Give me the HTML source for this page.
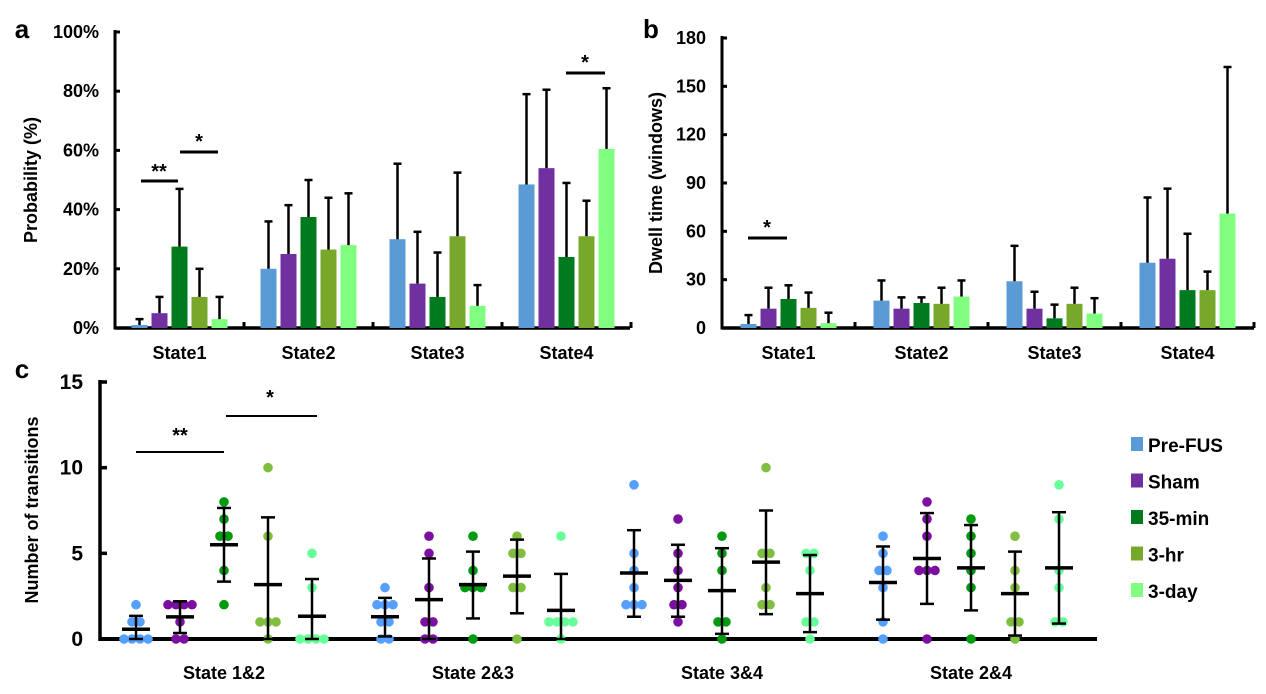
<!DOCTYPE html>
<html><head><meta charset="utf-8"><style>
body{margin:0;background:#fff;width:1266px;height:694px;overflow:hidden}
svg{display:block;font-family:"Liberation Sans",Arial,sans-serif;font-weight:bold}
</style></head><body>
<svg id="fig" width="1266" height="694" viewBox="0 0 1266 694"></svg>
<script>
const groups=["Pre-FUS","Sham","35-min","3-hr","3-day"];
const barColors=["#5b9bd5","#7030a0","#007a1f","#77a82c","#80ff80"];
const dotColors=["#55a0ff","#7b0fa0","#009a10","#7fbf3f","#66ff99"];
const stateCats=["State1","State2","State3","State4"];
// panel a: probability (%)
const probMean=[[1,5,27.5,10.5,3],[20,25,37.5,26.5,28],[30,15,10.5,31,7.5],[48.5,54,24,31,60.5]];
const probTop=[[3,10.5,47,20,10.5],[36,41.5,50,44,45.5],[55.5,32.5,25.5,52.5,14.5],[79,80.5,49,43,81]];
const probTicks=["0%","20%","40%","60%","80%","100%"];
// panel b: dwell time
const dwellMean=[[2.5,12,18,12.5,3],[17,12,15.5,15,19.5],[29,12,6,15,9],[40.5,43,23.5,23.5,71]];
const dwellTop=[[8,25,26.5,22,9.5],[29.5,19,19,25,29.5],[51,22.5,14.5,25,18.5],[81,86.5,58.5,35,162]];
const dwellTicks=[0,30,60,90,120,150,180];
// panel c: transitions
const transCats=["State 1&2","State 2&3","State 3&4","State 2&4"];
const transPts=[
 [[2,1,1,0,0,0,0],[2,2,2,2,1,0,0],[8,7,6,6,4,2],[10,6,1,1,1,0],[5,3,0,0,0,0]],
 [[3,2,2,2,1,1,0,0],[6,5,3,1,1,0,0],[6,4,3,3,3,0],[6,5,5,3,3,0],[6,1,1,1,1,0]],
 [[9,5,4,3,2,2,2],[7,5,4,3,2,2,1],[6,5,4,1,1,0],[10,5,5,3,2,2],[5,5,4,1,1,0]],
 [[6,5,4,4,3,1,0],[8,7,6,4,4,4,0],[7,6,5,4,3,0],[6,4,3,1,1,0],[9,7,4,3,1,1]]];
const transMean=[[0.57,1.29,5.5,3.17,1.33],[1.3,2.3,3.17,3.67,1.67],[3.85,3.42,2.82,4.49,2.65],[3.3,4.7,4.15,2.65,4.15]];
const transHi=[[1.35,2.2,7.65,7.1,3.5],[2.4,4.7,5.1,5.8,3.8],[6.35,5.5,5.3,7.5,4.9],[5.4,7.35,6.65,5.1,7.4]];
const transLo=[[0,0.35,3.35,0,0],[0.15,0,1.2,1.5,0],[1.3,1.3,0.3,1.45,0.4],[1.13,2.05,1.67,0.2,0.9]];
const transTicks=[0,5,10,15];

const svg=document.getElementById('fig');const NS='http://www.w3.org/2000/svg';
function mk(tag,attrs,name,text){const e=document.createElementNS(NS,tag);for(const k in attrs)e.setAttribute(k,attrs[k]);


if(text!==undefined)e.textContent=text;svg.appendChild(e);return e;}
function line(x1,y1,x2,y2,name,w){return mk('line',{x1,y1,x2,y2,stroke:'#000','stroke-width':w||2.5},name);}
function txt(x,y,s,name,size,anchor,extra){const a={x,y,'font-size':size,'text-anchor':anchor||'middle',fill:'#000'};Object.assign(a,extra||{});return mk('text',a,name,s);}

function barPanel(cfg){
 const {x0,x1,y0,yTop,vmax,means,tops,ticks,catW,tag}=cfg;
 const Y=v=>y0-(v/vmax)*(y0-yTop);
 line(x0,yTop-2,x0,y0+1.5,tag+'-y-axis',3);
 line(x0,y0,x1,y0,tag+'-x-axis',3.5);
 ticks.forEach((t,i)=>{const v=typeof t==='string'?parseFloat(t):t;const y=Y(v);
  line(x0,y,x0+5,y,tag+'-y-tick',3);
  txt(x0-16,y+6,String(t),tag+'-y-tick-label',18,'end');});
 for(let c=1;c<=4;c++){line(x0+c*catW,y0,x0+c*catW,y0-6,tag+'-x-tick',3);}
 stateCats.forEach((cat,c)=>{const cx=x0+catW*(c+0.5);
  txt(cx,y0+31,cat,tag+'-category-label',18);
  means[c].forEach((v,i)=>{const bx=cx+(i-2)*20;
   mk('rect',{x:bx-8,y:Y(v),width:16,height:y0-Y(v),fill:barColors[i]},tag+'-bar');
   line(bx,Y(v),bx,Y(tops[c][i]),tag+'-error-bar',2.5);
   line(bx-4,Y(tops[c][i]),bx+4,Y(tops[c][i]),tag+'-error-cap',2.5);});});
 return Y;}

// panel a
txt(22,38,'a','panel-a-label',26);
barPanel({x0:115,x1:630,y0:328,yTop:32,vmax:100,means:probMean,tops:probTop,ticks:probTicks,catW:129,tag:'prob'});
txt(0,0,'Probability (%)','prob-y-axis-title',18,'middle',{transform:'translate(37,180) rotate(-90)'});
line(141,181,178,181,'sig-line',3);txt(159,178,'**','sig-star',20);
line(180,152,218,152,'sig-line',3);txt(199,148,'*','sig-star',20);
line(566,73,605,73,'sig-line',3);txt(585,69,'*','sig-star',20);

// panel b
txt(651,38,'b','panel-b-label',26);
barPanel({x0:722,x1:1254,y0:328,yTop:38,vmax:180,means:dwellMean,tops:dwellTop,ticks:dwellTicks,catW:133,tag:'dwell'});
txt(0,0,'Dwell time (windows)','dwell-y-axis-title',18,'middle',{transform:'translate(662,183) rotate(-90)'});
line(748,238,787,238,'sig-line',3);txt(767,234,'*','sig-star',20);

// panel c
txt(22,378,'c','panel-c-label',26);
(function(){const x0=100,x1=1097,y0=639,yTop=382,vmax=15,gW=249,sp=44;
 const Y=v=>y0-(v/vmax)*(y0-yTop);
 line(x0,yTop-2,x0,y0+2,'trans-y-axis',3.5);
 line(x0,y0,x1,y0,'trans-x-axis',4);
 transTicks.forEach(t=>{line(x0,Y(t),x0+7,Y(t),'trans-y-tick',3.5);txt(x0-17,Y(t)+7,String(t),'trans-y-tick-label',21,'end');});
 txt(0,0,'Number of transitions','trans-y-axis-title',18,'middle',{transform:'translate(38,510) rotate(-90)'});
 transCats.forEach((cat,g)=>{const gc=x0+124+gW*g;
  txt(gc,679,cat,'trans-category-label',18);
  transPts[g].forEach((pts,i)=>{const cx=gc+(i-2)*sp;
   const counts={};pts.forEach(v=>counts[v]=(counts[v]||0)+1);const seen={};
   pts.forEach(v=>{const n=counts[v];const k=seen[v]=(seen[v]||0);seen[v]++;
    const dx=(k-(n-1)/2)*8;
    mk('circle',{cx:cx+dx,cy:Y(v),r:4.8,fill:dotColors[i]},'trans-dot');});
   const m=transMean[g][i],hi=transHi[g][i],lo=transLo[g][i];
   line(cx,Y(hi),cx,Y(lo),'trans-sd-line',2.5);
   line(cx-7,Y(hi),cx+7,Y(hi),'trans-sd-cap',2.5);
   line(cx-7,Y(lo),cx+7,Y(lo),'trans-sd-cap',2.5);
   line(cx-14,Y(m),cx+14,Y(m),'trans-mean-line',3.5);});});
 line(136,452,224,452,'sig-line',2);txt(180,442,'**','sig-star',20);
 line(226,416,317,416,'sig-line',2);txt(270,404,'*','sig-star',20);
})();
// legend
groups.forEach((g,i)=>{const y=445+i*36.5;
 mk('rect',{x:1131,y:y-8,width:12,height:14,fill:barColors[i]},'legend-swatch');
 txt(1148,y+7,g,'legend-entry',19,'start');});
</script>
</body></html>
